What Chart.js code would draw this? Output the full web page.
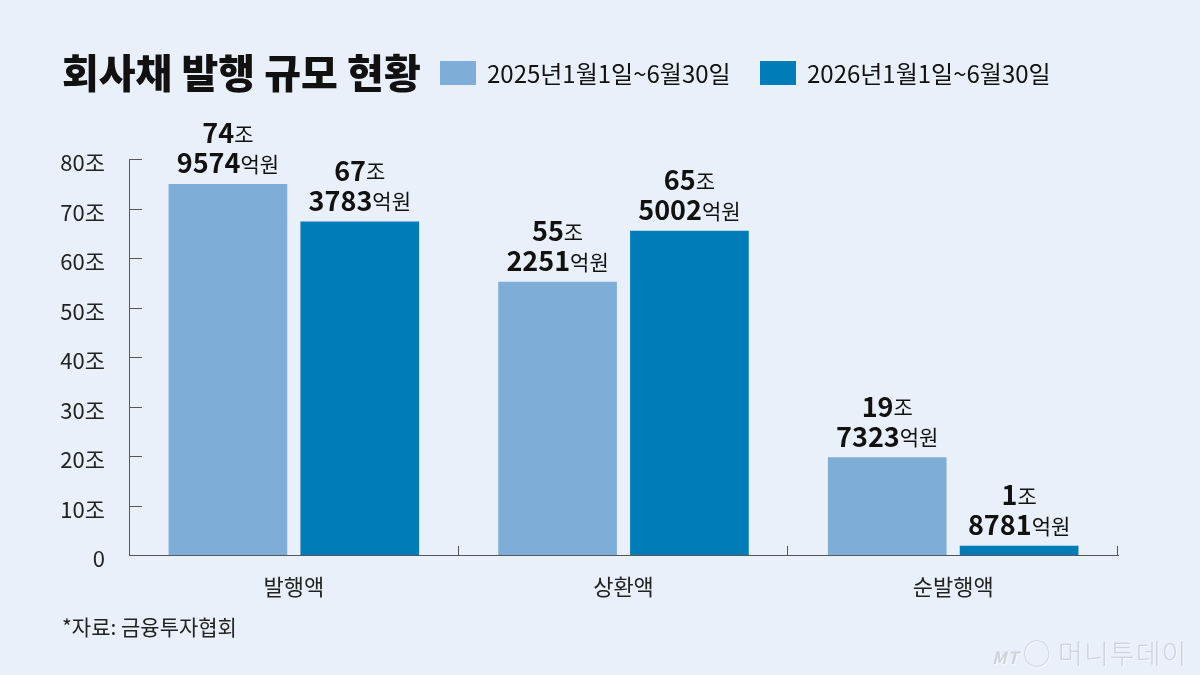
<!DOCTYPE html>
<html>
<head>
<meta charset="utf-8">
<script src="https://cdn.jsdelivr.net/npm/chart.js@4"></script>
<style>
  body { margin: 0; }
  #wrap { position: relative; width: 1200px; height: 675px; background: #e9f0fa; overflow: hidden;
          font-family: 'Liberation Sans Narrow', 'Noto Sans CJK KR', sans-serif; color: #111; }
  #chart { position: absolute; left: 0; top: 0; }
  .title { position: absolute; left: 62px; top: 45px; font-family: 'Noto Sans CJK KR', sans-serif;
           font-weight: 900; font-size: 40px; line-height: 52px; letter-spacing: 0px; }
  .legend { position: absolute; top: 58px; display: flex; align-items: center; font-size: 24px; line-height: 30px; }
  .legend span.box { display: inline-block; width: 36px; height: 24px; margin-right: 11px; }
  .source { position: absolute; left: 62px; top: 611px; font-size: 21px; color: #222; }
  .mark { position: absolute; left: 992px; top: 633px; font-family: 'Noto Sans CJK KR', sans-serif; font-weight: 300;
          font-size: 27px; color: #cdd3db; text-shadow: 1px 1px 0 #f6f8fb; letter-spacing: 1px; }
  .mark i { font-size: 17px; font-weight: 700; margin-right: 4px; }
</style>
</head>
<body>
<div id="wrap">
  <canvas id="chart" width="1200" height="675"></canvas>
  <div class="title">회사채 발행 규모 현황</div>
  <div class="legend" id="leg0" style="left:440px"></div>
  <div class="legend" id="leg1" style="left:760px"></div>
  <div class="source">*자료: 금융투자협회</div>
  <div class="mark"><i>MT</i>◯ 머니투데이</div>
</div>
<script>
const categories = ['발행액', '상환액', '순발행액'];
const seriesNames = ['2025년1월1일~6월30일', '2026년1월1일~6월30일'];
const values2025 = [74.9574, 55.2251, 19.7323];   // 조원
const values2026 = [67.3783, 65.5002, 1.8781];
const yTicks = [0, 10, 20, 30, 40, 50, 60, 70, 80];

const colors = ['#7eadd7', '#007cb9'];
const numFont = "'Liberation Sans Narrow', 'Noto Sans CJK KR', sans-serif";

// legend boxes
[0, 1].forEach(i => {
    document.getElementById('leg' + i).innerHTML =
        '<span class="box" style="background:' + colors[i] + '"></span>' + seriesNames[i];
});

// split 74.9574 -> ['74', '9574']
function splitValue(v) {
    const total = Math.round(v * 10000);
    return [String(Math.floor(total / 10000)), String(total % 10000)];
}

// draws "74조 / 9574억원" above each bar
const valueLabels = {
    id: 'valueLabels',
    afterDatasetsDraw(chart) {
        const ctx = chart.ctx;
        ctx.save();
        ctx.fillStyle = '#111';
        ctx.textBaseline = 'middle';
        chart.data.datasets.forEach((ds, di) => {
            chart.getDatasetMeta(di).data.forEach((bar, i) => {
                const parts = splitValue(ds.data[i]);
                const lines = [[parts[0], '조'], [parts[1], '억원']];
                lines.forEach((ln, li) => {
                    const y = bar.y - (li === 0 ? 51 : 21);
                    ctx.font = "bold 27px " + numFont;
                    const w1 = ctx.measureText(ln[0]).width;
                    ctx.font = "21px 'Noto Sans CJK KR', sans-serif";
                    const w2 = ctx.measureText(ln[1]).width;
                    let x = bar.x - (w1 + w2) / 2;
                    ctx.textAlign = 'left';
                    ctx.font = "bold 27px " + numFont;
                    ctx.fillText(ln[0], x, y);
                    ctx.font = "21px 'Noto Sans CJK KR', sans-serif";
                    ctx.fillText(ln[1], x + w1, y + 1);
                });
            });
        });
        ctx.restore();
    }
};

// inward tick marks on y axis, small upward ticks at category boundaries
const axisTicks = {
    id: 'axisTicks',
    afterDraw(chart) {
        const ctx = chart.ctx;
        const xs = chart.scales.x, ys = chart.scales.y;
        ctx.save();
        ctx.strokeStyle = '#555';
        ctx.lineWidth = 1;
        ctx.beginPath();
        yTicks.forEach(v => {
            if (v === 0) return;
            const y = Math.round(ys.getPixelForValue(v)) + 0.5;
            ctx.moveTo(xs.left, y);
            ctx.lineTo(xs.left + 13, y);
        });
        const half = (xs.getPixelForValue(1) - xs.getPixelForValue(0)) / 2;
        categories.forEach((c, i) => {
            const x = Math.round(xs.getPixelForValue(i) + half) - 0.5;
            ctx.moveTo(x, ys.bottom);
            ctx.lineTo(x, ys.bottom - 9);
        });
        ctx.stroke();
        ctx.restore();
    }
};

new Chart(document.getElementById('chart'), {
    type: 'bar',
    data: {
        labels: categories,
        datasets: [
            { label: seriesNames[0], data: values2025, backgroundColor: colors[0] },
            { label: seriesNames[1], data: values2026, backgroundColor: colors[1] }
        ]
    },
    options: {
        responsive: false,
        animation: false,
        layout: { padding: { left: 0, right: 82, top: 159, bottom: 0 } },
        plugins: { legend: { display: false }, tooltip: { enabled: false } },
        scales: {
            x: {
                grid: { display: false },
                border: { display: true, color: '#555', width: 1 },
                ticks: { color: '#222', padding: 10, font: { family: "'Noto Sans CJK KR', sans-serif", size: 22 } },
                afterFit(scale) { scale.height = 120; }
            },
            y: {
                min: 0,
                max: 80,
                grid: { display: false },
                border: { display: true, color: '#555', width: 1 },
                afterBuildTicks(scale) { scale.ticks = yTicks.map(v => ({ value: v })); },
                ticks: {
                    color: '#222',
                    padding: 16,
                    labelOffset: 4,
                    font: { family: numFont, size: 22 },
                    callback: v => v === 0 ? '0' : v + '조'
                },
                afterFit(scale) { scale.width = 129; }
            }
        }
    },
    plugins: [valueLabels, axisTicks]
});
</script>
</body>
</html>
